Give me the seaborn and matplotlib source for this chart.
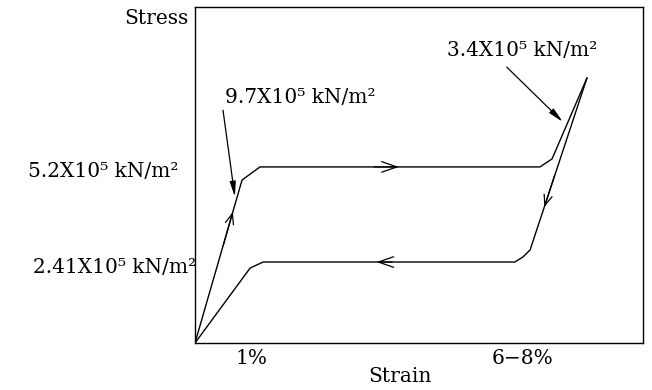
import matplotlib
matplotlib.use("Agg")
import matplotlib.pyplot as plt
import seaborn as sns
import pandas as pd

# Data (arbitrary units: strain 0-100 along box, stress 0-100 along box)
load_strain = [0.0, 10.5, 14.5, 77.0, 79.7, 87.5]
load_stress = [0.0, 48.5, 52.4, 52.4, 54.8, 78.9]
unload_strain = [87.5, 74.8, 73.2, 71.4, 15.2, 12.3, 0.0]
unload_stress = [78.9, 27.7, 25.6, 24.1, 24.1, 22.3, 0.0]

strain_ticks = [12.7, 73.0]
strain_tick_labels = ["1%", "6\u22128%"]

stress_labels = ["5.2X10\u2075 kN/m\u00b2", "2.41X10\u2075 kN/m\u00b2"]
stress_label_y = [50.9, 22.6]
stress_label_x = [-3.6, 0.3]

modulus_labels = ["9.7X10\u2075 kN/m\u00b2", "3.4X10\u2075 kN/m\u00b2"]
modulus_text_xy = [(23.4, 73.2), (73.0, 87.2)]
modulus_arrow_from = [(6.25, 69.3), (69.6, 82.1)]
modulus_arrow_to = [(8.9, 43.5), (82.1, 65.8)]

# direction arrows: (tail, tip, head_length, head_width)
dir_arrows = [((6.3, 29.0), (8.44, 39.0), 0.75, 0.3),
              ((40.0, 52.4), (45.5, 52.4), 1.1, 0.38),
              ((80.3, 50.0), (77.98, 40.5), 0.75, 0.3),
              ((44.0, 24.1), (40.5, 24.1), 1.1, 0.38)]

FS = 14.5
sns.set_style("white", {"text.color": "black", "axes.labelcolor": "black",
                        "xtick.color": "black", "ytick.color": "black"})
plt.rcParams['font.family'] = ['DejaVu Serif']

fig = plt.figure(figsize=(6.52, 3.90), dpi=100)
ax = fig.add_axes([195/652, 47/390, 448/652, 336/390])

df_load = pd.DataFrame({"strain": load_strain, "stress": load_stress})
df_unload = pd.DataFrame({"strain": unload_strain, "stress": unload_stress})
sns.lineplot(data=df_load, x="strain", y="stress", sort=False, color="black", lw=1.0, ax=ax)
sns.lineplot(data=df_unload, x="strain", y="stress", sort=False, color="black", lw=1.0, ax=ax)

ax.set_xlim(0, 100)
ax.set_ylim(0, 100)
for s in ax.spines.values():
    s.set_color("black")
    s.set_linewidth(1.0)

ax.set_xticks(strain_ticks)
ax.set_xticklabels(strain_tick_labels, fontsize=FS, color="black")
ax.tick_params(axis="x", length=0, pad=4)
ax.set_yticks([])
ax.set_xlabel("")
ax.set_ylabel("")
ax.text(0.458, -0.101, "Strain", transform=ax.transAxes, ha="center", va="center",
        fontsize=FS, color="black", clip_on=False)

ax.text(-1.5, 96.7, "Stress", ha="right", va="center", fontsize=FS, color="black", clip_on=False)
for lab, x, y in zip(stress_labels, stress_label_x, stress_label_y):
    ax.text(x, y, lab, ha="right", va="center", fontsize=FS, color="black", clip_on=False)

for lab, xy, a0, a1 in zip(modulus_labels, modulus_text_xy, modulus_arrow_from, modulus_arrow_to):
    ax.text(xy[0], xy[1], lab, ha="center", va="center", fontsize=FS, color="black")
    ax.annotate("", xy=a1, xytext=a0,
                arrowprops=dict(arrowstyle="-|>,head_length=0.9,head_width=0.18",
                                color="black", lw=0.9, shrinkA=0, shrinkB=0,
                                mutation_scale=10))

for tail, tip, hl, hw in dir_arrows:
    ax.annotate("", xy=tip, xytext=tail,
                arrowprops=dict(arrowstyle=f"->,head_length={hl},head_width={hw}",
                                color="black", lw=0.9, shrinkA=0, shrinkB=0,
                                mutation_scale=10))

fig.savefig("out.png", dpi=100)
